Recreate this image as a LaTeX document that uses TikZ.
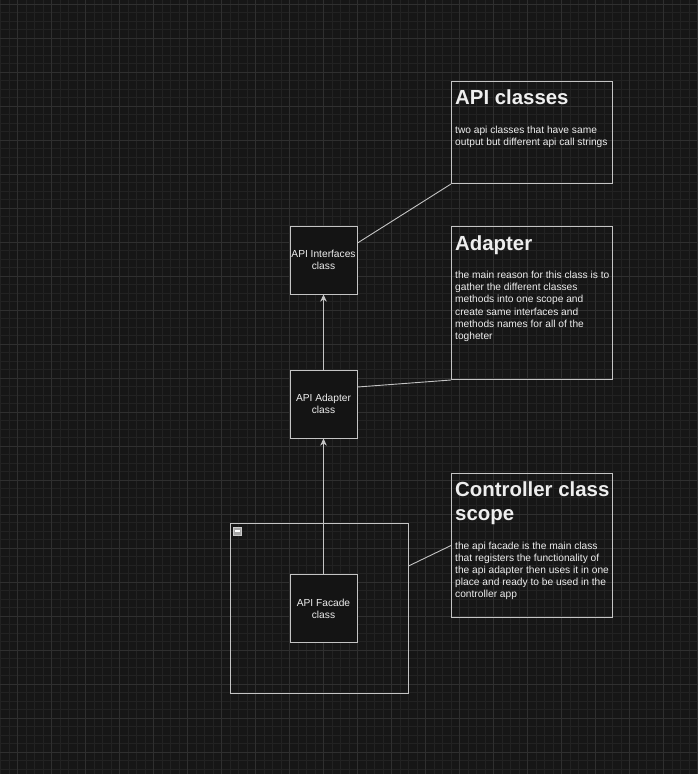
\documentclass[tikz,border=0pt]{standalone}
\usepackage{fontspec}
\setmainfont{Liberation Sans}
\usetikzlibrary{arrows.meta}
\definecolor{canvas}{HTML}{161616}
\definecolor{gridmin}{HTML}{222222}
\definecolor{gridmaj}{HTML}{2F2F2F}
\definecolor{boxfill}{HTML}{141414}
\definecolor{edge}{HTML}{C4C4C4}
\definecolor{ink}{HTML}{EEEEEE}
% first-line baseline block of text
\newcommand{\notelines}[1]{\parbox[t]{158pt}{\raggedright #1}}
\begin{document}
\begin{tikzpicture}[
    x=1pt, y=-1pt,
    cls/.style={draw=edge, line width=1pt, fill=boxfill, minimum width=67pt,
                minimum height=68pt, align=center, text=ink, inner sep=0pt,
                font={\fontsize{10.2}{12.2}\selectfont}},
    note/.style={draw=edge, line width=1pt, anchor=north west, inner sep=0pt},
    ttl/.style={anchor=base west, inner sep=0pt, text=ink,
                font={\fontsize{20.4}{24.5}\selectfont\bfseries}},
    txt/.style={anchor=base west, inner sep=0pt, text=ink,
                font={\fontsize{10.2}{12.1}\selectfont}},
    arr/.style={-{Stealth[length=7pt,width=6.5pt,inset=2pt]}, edge, line width=0.9pt},
    lnk/.style={edge, line width=0.9pt},
]

% Background and grid
\useasboundingbox (0,0) rectangle (698,774);
\fill[canvas] (0,0) rectangle (698,774);
\foreach \i in {0,...,82} \draw[gridmin, line width=0.6pt] ({0.3+8.5*\i},0) -- ++(0,774);
\foreach \j in {0,...,91} \draw[gridmin, line width=0.6pt] (0,{4+8.5*\j}) -- ++(698,0);
\foreach \i in {0,...,20} \draw[gridmaj, line width=0.8pt] ({17.3+34*\i},0) -- ++(0,774);
\foreach \j in {0,...,22} \draw[gridmaj, line width=0.8pt] (0,{4+34*\j}) -- ++(698,0);

% Controller scope container
\node[draw=edge, line width=1pt, minimum width=178pt, minimum height=170pt, inner sep=0pt]
    (scope) at (319,608) {};
\node[draw=white!80!black, fill=gray!70, line width=0.6pt, minimum size=8pt, inner sep=0pt]
    (fold) at (237,531) {};
\fill[white] ([xshift=-2.5pt,yshift=-1pt]fold.center) rectangle ([xshift=2.5pt,yshift=1pt]fold.center);

% Class boxes
\node[cls] (ifc) at (323.5,260) {API Interfaces\\class};
\node[cls] (adp) at (323.5,404) {API Adapter\\class};
\node[cls] (fac) at (323.5,608.5) {API Facade\\class};

% Note boxes
\node[note, minimum width=161pt, minimum height=102pt] (apinote) at (451,81) {};
\node[ttl] (apittl) at (455,104) {API classes};
\node[txt] (apitxt) at (455,133.5) {\notelines{two api classes that have same\\output but different api call strings}};

\node[note, minimum width=161pt, minimum height=153pt] (adpnote) at (451,226) {};
\node[ttl] (adpttl) at (455,250) {Adapter};
\node[txt] (adptxt) at (455,278.7) {\notelines{the main reason for this class is to\\gather the different classes\\methods into one scope and\\create same interfaces and\\methods names for all of the\\togheter}};

\node[note, minimum width=161pt, minimum height=144pt] (ctlnote) at (451,473) {};
\node[ttl] (ctlttl) at (455,496) {\notelines{Controller class\\scope}};
\node[txt] (ctltxt) at (455,549.3) {\notelines{the api facade is the main class\\that registers the functionality of\\the api adapter then uses it in one\\place and ready to be used in the\\controller app}};

% Arrows between classes
\draw[arr] (fac) -- (adp);
\draw[arr] (adp) -- (ifc);

% Links to notes
\draw[lnk] ([yshift=17pt]ifc.east) -- (apinote.south west);
\draw[lnk] ([yshift=17pt]adp.east) -- (adpnote.south west);
\draw[lnk] ([yshift=42pt]scope.east) -- (ctlnote.west);

\end{tikzpicture}
\end{document}
